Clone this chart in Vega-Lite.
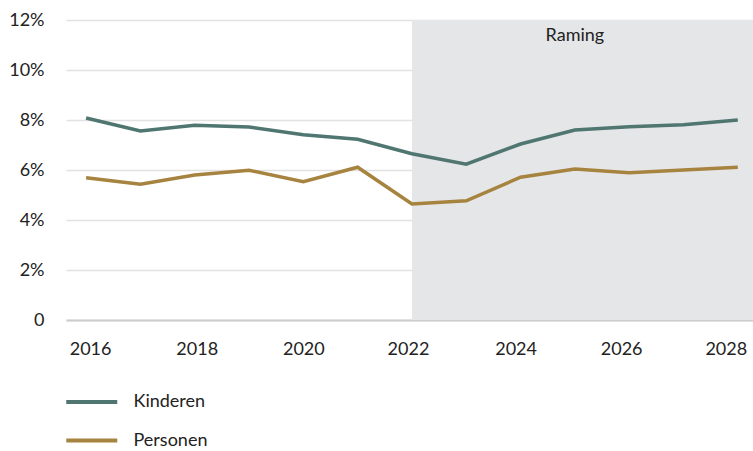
{
  "$schema": "https://vega.github.io/schema/vega-lite/v6.json",
  "width": 687,
  "height": 300,
  "autosize": "none",
  "padding": {"left": 66, "top": 20, "right": 0, "bottom": 131},
  "background": "white",
  "config": {
    "view": {"stroke": null},
    "font": "Lato",
    "axis": {"labelFont": "Lato", "labelColor": "#222", "labelFontSize": 18, "title": null}
  },
  "datasets": {
    "series": [
      {"year": 2016, "reeks": "Kinderen", "v": 0.0808},
      {"year": 2017, "reeks": "Kinderen", "v": 0.0756},
      {"year": 2018, "reeks": "Kinderen", "v": 0.0779},
      {"year": 2019, "reeks": "Kinderen", "v": 0.0772},
      {"year": 2020, "reeks": "Kinderen", "v": 0.0741},
      {"year": 2021, "reeks": "Kinderen", "v": 0.0723},
      {"year": 2022, "reeks": "Kinderen", "v": 0.0665},
      {"year": 2023, "reeks": "Kinderen", "v": 0.0623},
      {"year": 2024, "reeks": "Kinderen", "v": 0.0704},
      {"year": 2025, "reeks": "Kinderen", "v": 0.0760},
      {"year": 2026, "reeks": "Kinderen", "v": 0.0773},
      {"year": 2027, "reeks": "Kinderen", "v": 0.0781},
      {"year": 2028, "reeks": "Kinderen", "v": 0.0800},
      {"year": 2016, "reeks": "Personen", "v": 0.0569},
      {"year": 2017, "reeks": "Personen", "v": 0.0543},
      {"year": 2018, "reeks": "Personen", "v": 0.0580},
      {"year": 2019, "reeks": "Personen", "v": 0.0599},
      {"year": 2020, "reeks": "Personen", "v": 0.0553},
      {"year": 2021, "reeks": "Personen", "v": 0.0611},
      {"year": 2022, "reeks": "Personen", "v": 0.0464},
      {"year": 2023, "reeks": "Personen", "v": 0.0477},
      {"year": 2024, "reeks": "Personen", "v": 0.0571},
      {"year": 2025, "reeks": "Personen", "v": 0.0604},
      {"year": 2026, "reeks": "Personen", "v": 0.0589},
      {"year": 2027, "reeks": "Personen", "v": 0.0600},
      {"year": 2028, "reeks": "Personen", "v": 0.0611}
    ],
    "raming": [{"start": 2022, "label": "Raming", "mid": 2025, "top": 0.12}]
  },
  "layer": [
    {
      "data": {"name": "raming"},
      "mark": {"type": "rect", "color": "#e5e6e8"},
      "encoding": {
        "x": {"field": "start", "type": "quantitative", "scale": {"domain": [2015.63, 2028.28], "nice": false, "zero": false},
              "axis": {"values": [2016, 2018, 2020, 2022, 2024, 2026, 2028], "format": "d", "grid": false, "ticks": false, "domainColor": "#cccccc", "domainWidth": 2, "labelPadding": 20,
                       "labelOffset": {"condition": [
                         {"test": "datum.value == 2016", "value": 4},
                         {"test": "datum.value == 2018", "value": 2},
                         {"test": "datum.value == 2022", "value": -4},
                         {"test": "datum.value == 2024", "value": -5},
                         {"test": "datum.value == 2026", "value": -8},
                         {"test": "datum.value == 2028", "value": -12}
                       ], "value": 0}}},
        "x2": {"value": "width"},
        "y": {"value": 0},
        "y2": {"value": "height"}
      }
    },
    {
      "data": {"name": "raming"},
      "mark": {"type": "text", "baseline": "top", "dy": 7, "fontSize": 18, "color": "#222", "font": "Lato"},
      "encoding": {
        "x": {"field": "mid", "type": "quantitative"},
        "y": {"field": "top", "type": "quantitative"},
        "text": {"field": "label"}
      }
    },
    {
      "data": {"name": "series"},
      "mark": {"type": "line", "strokeWidth": 3.5, "strokeJoin": "miter"},
      "encoding": {
        "x": {"field": "year", "type": "quantitative"},
        "y": {"field": "v", "type": "quantitative", "scale": {"domain": [0, 0.12], "nice": false},
              "axis": {"values": [0, 0.02, 0.04, 0.06, 0.08, 0.1, 0.12], "labelExpr": "datum.value == 0 ? '0' : format(datum.value, '.0%')", "domain": false, "ticks": false, "gridColor": "#e2e2e2", "gridWidth": 1.5, "labelPadding": 22}},
        "color": {"field": "reeks", "type": "nominal",
                  "scale": {"domain": ["Kinderen", "Personen"], "range": ["#4f7670", "#a6833f"]},
                  "legend": {"title": null, "orient": "none", "legendX": 10.75, "legendY": 367, "direction": "vertical",
                             "symbolType": "M-2,0H2", "symbolSize": 650, "symbolStrokeWidth": 4,
                             "labelFontSize": 18, "labelFont": "Lato", "labelColor": "#222", "labelOffset": 26.75, "rowPadding": 14.5}}
      }
    }
  ]
}
